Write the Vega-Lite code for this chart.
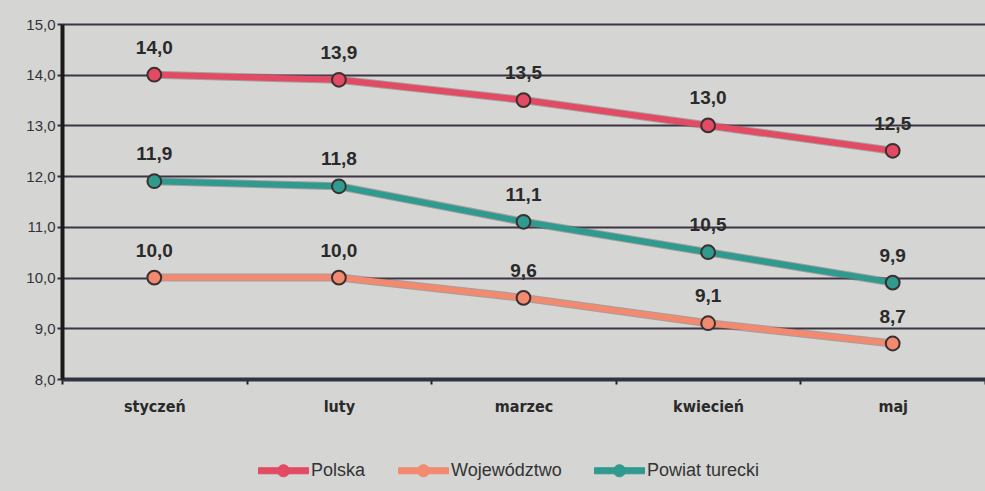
{
  "$schema": "https://vega.github.io/schema/vega-lite/v6.json",
  "autosize": {"type": "none"},
  "width": 923,
  "height": 355,
  "padding": {"left": 62, "top": 24, "right": 0, "bottom": 112},
  "background": "#d5d5d3",
  "config": {
    "locale": {"number": {"decimal": ",", "thousands": " ", "grouping": [3], "currency": ["", " zł"]}},
    "view": {"stroke": null},
    "font": "Liberation Sans"
  },
  "data": {
    "values": [
      {"miesiac": "styczeń", "seria": "Polska", "wartosc": 14.0},
      {"miesiac": "luty", "seria": "Polska", "wartosc": 13.9},
      {"miesiac": "marzec", "seria": "Polska", "wartosc": 13.5},
      {"miesiac": "kwiecień", "seria": "Polska", "wartosc": 13.0},
      {"miesiac": "maj", "seria": "Polska", "wartosc": 12.5},
      {"miesiac": "styczeń", "seria": "Województwo", "wartosc": 10.0},
      {"miesiac": "luty", "seria": "Województwo", "wartosc": 10.0},
      {"miesiac": "marzec", "seria": "Województwo", "wartosc": 9.6},
      {"miesiac": "kwiecień", "seria": "Województwo", "wartosc": 9.1},
      {"miesiac": "maj", "seria": "Województwo", "wartosc": 8.7},
      {"miesiac": "styczeń", "seria": "Powiat turecki", "wartosc": 11.9},
      {"miesiac": "luty", "seria": "Powiat turecki", "wartosc": 11.8},
      {"miesiac": "marzec", "seria": "Powiat turecki", "wartosc": 11.1},
      {"miesiac": "kwiecień", "seria": "Powiat turecki", "wartosc": 10.5},
      {"miesiac": "maj", "seria": "Powiat turecki", "wartosc": 9.9}
    ]
  },
  "encoding": {
    "x": {
      "field": "miesiac", "type": "nominal",
      "sort": ["styczeń", "luty", "marzec", "kwiecień", "maj"],
      "scale": {"paddingInner": 0, "paddingOuter": 0},
      "axis": {
        "title": null, "labelAngle": 0, "tickBand": "extent",
        "domainColor": "#2e3440", "domainWidth": 4,
        "tickColor": "#222", "tickWidth": 2, "tickSize": 5,
        "labelFont": "DejaVu Sans Condensed, Liberation Sans", "labelFontWeight": "bold",
        "labelFontSize": 16, "labelColor": "#2a2a2a", "labelPadding": 14,
        "grid": false
      }
    },
    "y": {
      "field": "wartosc", "type": "quantitative",
      "scale": {"domain": [8, 15], "nice": false, "zero": false},
      "axis": {
        "title": null, "values": [8, 9, 10, 11, 12, 13, 14, 15], "format": ".1f",
        "domainColor": "#1a1a1a", "domainWidth": 4,
        "tickColor": "#333", "tickWidth": 2, "tickSize": 5,
        "labelFontSize": 15, "labelColor": "#333", "labelFontWeight": "normal", "labelPadding": 2,
        "grid": true, "gridColor": "#3d3545", "gridWidth": 2, "gridOpacity": 1
      }
    },
    "color": {
      "field": "seria", "type": "nominal",
      "sort": ["Polska", "Województwo", "Powiat turecki"],
      "scale": {"domain": ["Polska", "Województwo", "Powiat turecki"], "range": ["#e34a63", "#f28a70", "#2f9a8e"]},
      "legend": null
    }
  },
  "layer": [
    {
      "mark": {"type": "line", "strokeWidth": 8, "opacity": 0.45},
      "encoding": {"detail": {"field": "seria"}, "color": {"value": "#6a5a60"}}
    },
    {
      "mark": {"type": "line", "strokeWidth": 6},
      "encoding": {
        "color": {
          "field": "seria", "type": "nominal",
          "sort": ["Polska", "Województwo", "Powiat turecki"],
          "legend": {
            "title": null, "orient": "none", "direction": "horizontal",
            "legendX": 196, "legendY": 421,
            "symbolType": "M-1,-0.12H1V0.12H-1Z M0.24,0A0.24,0.24 0 1,1 -0.24,0A0.24,0.24 0 1,1 0.24,0Z",
            "symbolSize": 2500, "symbolStrokeColor": "#333", "symbolStrokeWidth": 1,
            "symbolOpacity": 1,
            "labelFontSize": 18, "labelColor": "#333", "labelOffset": 2,
            "columnPadding": 30
          }
        }
      }
    },
    {
      "mark": {"type": "point", "shape": "circle", "size": 190, "filled": true, "stroke": "#3a3030", "strokeWidth": 2, "opacity": 1}
    },
    {
      "mark": {"type": "text", "dy": -27, "fontSize": 19, "fontWeight": "bold", "color": "#2a2a2a"},
      "encoding": {
        "text": {"field": "wartosc", "type": "quantitative", "format": ".1f"},
        "color": {"value": "#2a2a2a"}
      }
    }
  ]
}
